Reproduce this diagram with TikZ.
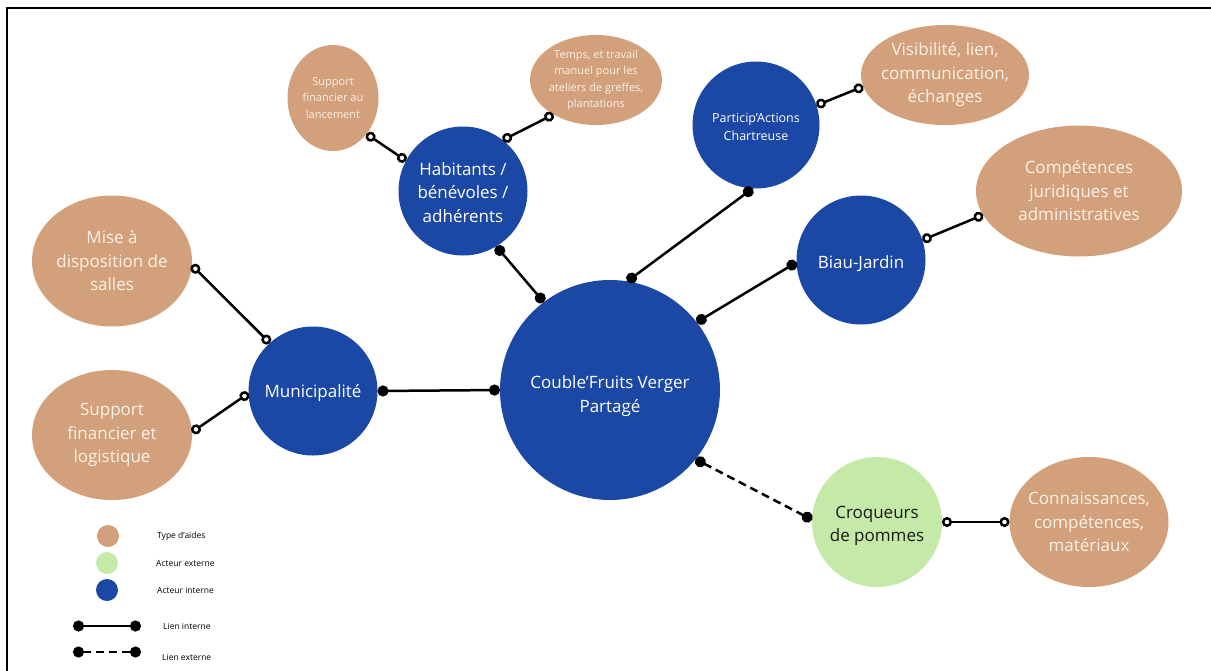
\documentclass[tikz,border=0pt]{standalone}
\usepackage{fontspec}
\setmainfont{Open Sans}
\usetikzlibrary{shapes.geometric}
\usetikzlibrary{positioning}
\usetikzlibrary{arrows.meta}
\usepackage{xcolor}
\definecolor{aide}{RGB}{210,160,122}
\definecolor{interne}{RGB}{27,71,165}
\definecolor{externe}{RGB}{197,233,167}
\definecolor{creme}{RGB}{250,241,232}
% hauteur ajoutee a la premiere ligne
\newcommand{\decal}[1][20pt]{\rule{0pt}{#1}}

\begin{document}
\begin{tikzpicture}[x=1pt, y=-1pt,
    acteur/.style={circle, fill=interne, text=white, align=center, inner sep=0pt, outer sep=0pt, font=\fontsize{17}{23.5}\selectfont},
    acteurext/.style={acteur, fill=externe, text=black!90},
    aidebulle/.style={ellipse, fill=aide, text=creme, align=center, inner xsep=-18pt, inner ysep=-10pt, outer sep=0pt, font=\fontsize{17}{23.5}\selectfont},
    petit/.style={font=\fontsize{11}{16.3}\selectfont},
    lien/.style={line width=2.5pt, {Circle[length=11pt]}-{Circle[length=11pt]}},
    lienext/.style={lien, dash pattern=on 8pt off 5pt},
    apport/.style={line width=2.5pt, {Circle[length=10pt, fill=white]}-{Circle[length=10pt, fill=white]}},
    legende/.style={circle, minimum size=22pt, inner sep=0pt},
    legtexte/.style={anchor=west, inner sep=0pt, font=\fontsize{8.5}{10}\selectfont}]
  \useasboundingbox (0,0) rectangle (1211,670);
  \draw[line width=2pt] (7,672) -- (7,8) -- (1213,8);

  % acteurs
  \node[acteur, minimum size=220pt] (verger) at (610,390) {\decal[25pt]Couble’Fruits Verger\\Partagé};
  \node[acteur, minimum size=129pt] (muni) at (313,391) {\decal[18pt]Municipalité};
  \node[acteur, minimum size=129pt] (habitants) at (463,191) {\decal[16pt]Habitants /\\bénévoles /\\adhérents};
  \node[acteur, minimum size=127pt, font=\fontsize{12.5}{18}\selectfont] (particip) at (756,125) {\decal[14pt]Particip’Actions\\Chartreuse};
  \node[acteur, minimum size=129pt] (biau) at (861,260) {\decal Biau-Jardin};
  \node[acteurext, minimum size=130pt] (croqueurs) at (877,522) {\decal Croqueurs\\de pommes};

  % types d'aides
  \node[aidebulle, petit, minimum width=91pt, minimum height=106pt] (lancement) at (333,98) {Support\\financier au\\lancement};
  \node[aidebulle, petit, minimum width=132pt, minimum height=90pt] (temps) at (596,80) {Temps, et travail\\manuel pour les\\ateliers de greffes,\\plantations};
  \node[aidebulle, minimum width=168pt, minimum height=100pt] (visibilite) at (945,75) {Visibilité, lien,\\communication,\\échanges};
  \node[aidebulle, minimum width=206pt, minimum height=131pt] (juridique) at (1079,191) {Compétences\\juridiques et\\administratives};
  \node[aidebulle, minimum width=160pt, minimum height=131pt] (salles) at (112,261) {Mise à\\disposition de\\salles};
  \node[aidebulle, minimum width=160pt, minimum height=130pt] (logistique) at (112,435) {Support\\financier et\\logistique};
  \node[aidebulle, minimum width=159pt, minimum height=130pt] (savoirs) at (1089,522) {Connaissances,\\compétences,\\matériaux};

  % liens
  \draw[lien] (muni.0) -- (verger.180);
  \draw[lien] (habitants.-59) -- (verger.127);
  \draw[lien] (particip.-93) -- (verger.81);
  \draw[lien] (biau.-178) -- (verger.38);
  \draw[lienext] (verger.-39) -- (croqueurs.178);
  \draw[apport] (croqueurs.0) -- (savoirs.180);
  \draw[apport] (biau.18) -- (juridique.-166);
  \draw[apport] (particip.18) -- (visibilite.-172);
  \draw[apport] (habitants.152) -- (lancement.-47);
  \draw[apport] (habitants.52) -- (temps.-141);
  \draw[apport] (muni.132) -- (salles.-3);
  \draw[apport] (muni.-178) -- (logistique.2);

  % legende
  \node[legende, fill=aide] (legaide) at (108,536) {};
  \node[legende, fill=externe] (legext) at (107,563) {};
  \node[legende, fill=interne] (legint) at (107,590) {};
  \node[legtexte] (txtaide) at (157,536) {Type d’aides};
  \node[legtexte] (txtext) at (156,563) {Acteur externe};
  \node[legtexte] (txtint) at (157,590) {Acteur interne};
  \coordinate (li1) at (73,626);
  \coordinate (li2) at (141,626);
  \draw[lien] (li1) -- (li2);
  \node[legtexte] (txtlienint) at (163,626) {Lien interne};
  \coordinate (le1) at (73,652);
  \coordinate (le2) at (141,652);
  \draw[lienext] (le1) -- (le2);
  \node[legtexte] (txtlienext) at (162,657) {Lien externe};
\end{tikzpicture}
\end{document}
